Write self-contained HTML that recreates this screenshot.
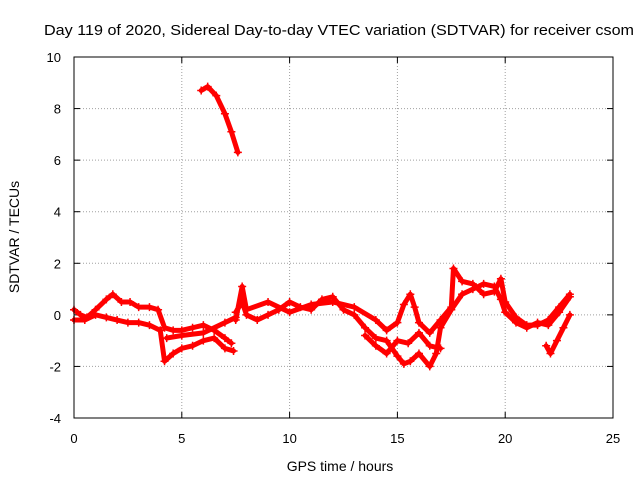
<!DOCTYPE html>
<html><head><meta charset="utf-8"><style>
body{margin:0;background:#fff}
svg{display:block;font-family:"Liberation Sans",sans-serif}
</style></head><body>
<svg id="chart" width="640" height="480">
<rect width="640" height="480" fill="#fff"/>
<text x="339" y="35" font-size="15" text-anchor="middle" textLength="590" lengthAdjust="spacingAndGlyphs">Day 119 of 2020, Sidereal Day-to-day VTEC variation (SDTVAR) for receiver csom</text>
<text x="340" y="471" font-size="14" text-anchor="middle">GPS time / hours</text>
<text transform="translate(19,237) rotate(-90)" font-size="14" text-anchor="middle">SDTVAR / TECUs</text>
<g id="grid"></g><g id="ticks"></g><g id="series"></g>
<rect x="74" y="57" width="539" height="361" fill="none" stroke="#000" stroke-width="1"/>
</svg>
<script>
const xTicks=[0,5,10,15,20,25];
const yTicks=[-4,-2,0,2,4,6,8,10];
const trackA_t=[5.9,6.2,6.6,7.0,7.3,7.6];
const trackA_v=[8.7,8.85,8.5,7.8,7.1,6.3];
const trackB_t=[0,0.3,0.6,1.0,1.5,1.8,2.2,2.6,3.0,3.5,3.9,4.2,4.6,5.0,5.5,6.0,6.5,7.0,7.3];
const trackB_v=[0.2,0,-0.1,0.2,0.6,0.8,0.5,0.5,0.3,0.3,0.2,-0.5,-0.6,-0.6,-0.5,-0.4,-0.6,-0.9,-1.1];
const trackC_t=[0,0.5,1.0,1.5,2.0,2.5,3.0,3.5,4.0,4.2,4.6,5.0,5.5,6.0,6.5,7.0,7.4];
const trackC_v=[-0.2,-0.2,0.0,-0.1,-0.2,-0.3,-0.3,-0.4,-0.6,-1.8,-1.5,-1.3,-1.2,-1.0,-0.9,-1.3,-1.4];
const trackC2_t=[4.3,5.0,6.0,7.0,7.5];
const trackC2_v=[-0.9,-0.8,-0.7,-0.3,-0.1];
const trackD_t=[7.5,7.8,8.0,8.5,9.0,9.5,10,10.5,11,11.5,12,12.5,13,13.5,14,14.5,15,15.3,15.6,16,16.5,16.8,17,17.5,18,18.5,19,19.5,19.8,20,20.5,21,21.5,22,22.5,23];
const trackD_v=[0.1,0.5,0.0,-0.2,0,0.2,0.5,0.3,0.2,0.6,0.7,0.2,0,-0.5,-0.9,-1.0,-1.6,-1.9,-1.8,-1.5,-2.0,-1.5,-0.5,0.2,0.8,1.0,1.2,1.1,0.6,0.1,-0.3,-0.5,-0.3,-0.4,0.1,0.7];
const trackE_t=[7.5,7.8,8.0,9,10,11,12,13,14,14.5,15,15.3,15.6,15.8,16,16.5,17,17.5,17.6,18,18.5,19,19.5,19.8,20,20.5,21,21.5,22,22.5,23];
const trackE_v=[-0.2,1.1,0.2,0.5,0.1,0.4,0.5,0.3,-0.2,-0.6,-0.3,0.4,0.8,0.3,-0.3,-0.7,-0.2,0.3,1.8,1.3,1.2,0.8,0.9,1.4,0.5,-0.1,-0.4,-0.4,-0.2,0.3,0.8];
const trackF_t=[13.5,14,14.5,15,15.5,16,16.5,17];
const trackF_v=[-0.8,-1.2,-1.5,-1.0,-1.1,-0.7,-1.2,-1.3];
const trackG_t=[21.9,22.1,22.4,22.7,23];
const trackG_v=[-1.2,-1.5,-1.0,-0.5,0];
const tracks=[[trackA_t,trackA_v],[trackB_t,trackB_v],[trackC_t,trackC_v],[trackC2_t,trackC2_v],[trackD_t,trackD_v],[trackE_t,trackE_v],[trackF_t,trackF_v],[trackG_t,trackG_v]];
const X=t=>74+t*(539/25);
const Y=v=>418-(v+4)*(361/14);
const NS="http://www.w3.org/2000/svg";
function mk(tag,attrs,parent){const e=document.createElementNS(NS,tag);for(const k in attrs)e.setAttribute(k,attrs[k]);parent.appendChild(e);return e;}
const grid=document.getElementById('grid'),ticks=document.getElementById('ticks'),series=document.getElementById('series');
xTicks.forEach(t=>{const x=X(t);
 if(t>0&&t<25){const g=mk('line',{x1:x,x2:x,y1:57,y2:418,stroke:'#a0a0a0','stroke-dasharray':'1,2'},grid);
 
 }
 mk('line',{x1:x,x2:x,y1:418,y2:412,stroke:'#000'},ticks);
 mk('line',{x1:x,x2:x,y1:57,y2:63,stroke:'#000'},ticks);
 const l=mk('text',{x:x,y:443,'font-size':13,'text-anchor':'middle'},ticks);l.textContent=t;
 
 });
yTicks.forEach(v=>{const y=Y(v);
 if(v>-4&&v<10){const g=mk('line',{x1:74,x2:613,y1:y,y2:y,stroke:'#a0a0a0','stroke-dasharray':'1,2'},grid);
 
 }
 mk('line',{x1:74,x2:80,y1:y,y2:y,stroke:'#000'},ticks);
 mk('line',{x1:613,x2:607,y1:y,y2:y,stroke:'#000'},ticks);
 const l=mk('text',{x:61,y:y+5,'font-size':13,'text-anchor':'end'},ticks);l.textContent=v;
 
 });
tracks.forEach(([ts,vs],i)=>{
 const pts=ts.map((t,j)=>X(t)+','+Y(vs[j])).join(' ');
 const pl=mk('polyline',{points:pts,fill:'none',stroke:'#f00','stroke-width':5,'stroke-linejoin':'round','stroke-linecap':'round'},series);
 
 
 ts.forEach((t,j)=>{const x=X(t),y=Y(vs[j]);
  const p=mk('path',{d:`M${x-4},${y}H${x+4}M${x},${y-4}V${y+4}`,stroke:'#f00','stroke-width':1.5},series);
  
  });
});
</script>
</body></html>
